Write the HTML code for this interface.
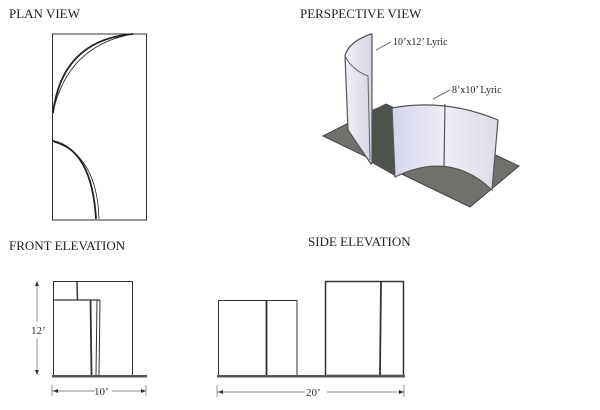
<!DOCTYPE html>
<html><head><style>
html,body{margin:0;padding:0;background:#fff;}
svg{display:block;font-family:"Liberation Serif",serif;}
</style></head><body>
<svg width="600" height="410" viewBox="0 0 600 410" xmlns="http://www.w3.org/2000/svg">
<defs>
<linearGradient id="w1" x1="0" x2="1"><stop offset="0" stop-color="#f0f0f6"/><stop offset="1" stop-color="#d4d4e4"/></linearGradient>
<linearGradient id="w2" x1="0" x2="1"><stop offset="0" stop-color="#d4d4ea"/><stop offset="0.5" stop-color="#eeeef6"/><stop offset="1" stop-color="#dcdce8"/></linearGradient>
</defs>
<g font-size="13" fill="#222">
<text x="9" y="18">PLAN VIEW</text>
<text x="300" y="18">PERSPECTIVE VIEW</text>
<text x="9" y="250">FRONT ELEVATION</text>
<text x="308" y="246">SIDE ELEVATION</text>
</g>
<!-- plan -->
<rect x="52.5" y="34" width="94" height="186" fill="none" stroke="#333" stroke-width="1"/>
<path d="M53 113 Q62 40 133 34" fill="none" stroke="#222" stroke-width="1.8"/>
<path d="M54 108 Q70 45 133 34" fill="none" stroke="#222" stroke-width="0.8"/>
<path d="M53 141 Q92 150 96 219" fill="none" stroke="#222" stroke-width="1.8"/>
<path d="M54 142 Q97 155 99 219" fill="none" stroke="#222" stroke-width="0.8"/>
<!-- perspective -->
<polygon points="323,136 386,104 519,166 470,207" fill="#6e716c" stroke="#444"/>
<polygon points="372,110 386,104 395,110 395,176 372,163" fill="#4e524d"/>
<path d="M392 108 Q445 98 498 120 L492 190 Q450 150 395 177 Z" fill="url(#w2)" stroke="#555" stroke-width="1.2"/>
<line x1="445" y1="104" x2="444" y2="166" stroke="#555" stroke-width="1.2"/>
<path d="M371 34 Q348 42 345 56 L348 130 L371 164 L372 163 L372 34 Z" fill="url(#w1)" stroke="#555" stroke-width="1.2"/>
<path d="M345 56 Q352 70 368 76 L370 160" fill="none" stroke="#666" stroke-width="1"/>
<line x1="376" y1="50" x2="391" y2="42" stroke="#777"/>
<line x1="433" y1="99" x2="450" y2="90" stroke="#777"/>
<g font-size="10" fill="#222">
<text x="393" y="45">10’x12’ Lyric</text>
<text x="452" y="93">8’x10’ Lyric</text>
</g>
<!-- front elevation -->
<g fill="none" stroke="#333">
<rect x="53.5" y="281.5" width="79" height="94" stroke-width="1"/>
<line x1="77" y1="281" x2="77.5" y2="300" stroke-width="1.5"/>
<line x1="53" y1="300" x2="100" y2="300" stroke-width="1.2"/>
<line x1="90.5" y1="300" x2="91.5" y2="375" stroke-width="1.8"/>
<line x1="97" y1="300" x2="96" y2="375" stroke-width="1"/>
<line x1="100" y1="300" x2="99" y2="375" stroke-width="1"/>
</g>
<rect x="52" y="375" width="95" height="2.5" fill="#555"/>
<g stroke="#666" stroke-width="0.7">
<line x1="37" y1="283" x2="37" y2="322"/><line x1="37" y1="338" x2="37" y2="374"/>
<line x1="52" y1="391" x2="95" y2="391"/><line x1="112" y1="391" x2="146" y2="391"/>
<line x1="52" y1="385" x2="52" y2="396"/><line x1="146" y1="385" x2="146" y2="396"/>
<line x1="217" y1="392" x2="305" y2="392"/><line x1="327" y1="392" x2="404" y2="392"/>
<line x1="217" y1="385" x2="217" y2="397"/><line x1="404" y1="385" x2="404" y2="397"/>
</g>
<g fill="#333">
<polygon points="37,281 35,286 39,286"/><polygon points="37,375 35,370 39,370"/>
<polygon points="53,391 58,389 58,393"/><polygon points="146,391 141,389 141,393"/>
<polygon points="218,392 223,390 223,394"/><polygon points="404,392 399,390 399,394"/>
</g>
<g font-size="11" fill="#333">
<text x="31" y="334">12’</text>
<text x="94" y="395">10’</text>
<text x="306" y="396">20’</text>
</g>
<!-- side elevation -->
<g fill="none" stroke="#333">
<rect x="218.5" y="300.5" width="78.5" height="75" stroke-width="1"/>
<line x1="266.5" y1="300" x2="266.5" y2="375" stroke-width="1.8"/>
<rect x="325.5" y="281.5" width="78" height="94" stroke-width="1.5"/>
<line x1="381" y1="281" x2="380" y2="375" stroke-width="1.8"/>
</g>
<rect x="217" y="375" width="188" height="2.5" fill="#555"/>
</svg>
</body></html>
